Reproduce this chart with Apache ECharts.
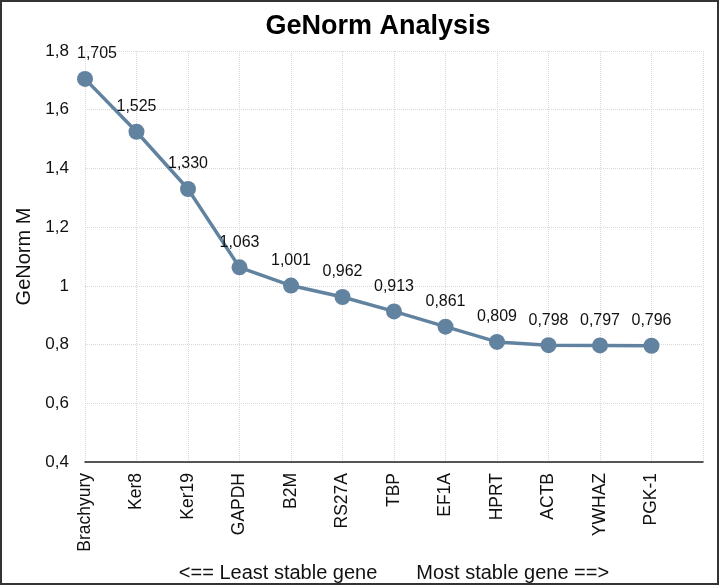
<!DOCTYPE html>
<html>
<head>
<meta charset="utf-8">
<style>html,body{margin:0;padding:0;background:#fff;}#c{width:720px;height:586px;}</style>
<script src="https://cdn.jsdelivr.net/npm/echarts@6/dist/echarts.min.js"></script>
</head>
<body>
<div id="c"></div>
<script>
const genes = ['Brachyury','Ker8','Ker19','GAPDH','B2M','RS27A','TBP','EF1A','HPRT','ACTB','YWHAZ','PGK-1'];
const mValues = [1.705,1.525,1.330,1.063,1.001,0.962,0.913,0.861,0.809,0.798,0.797,0.796];
const yTicks = {min:0.4, max:1.8, interval:0.2};
const titleText = 'GeNorm Analysis';
const yName = 'GeNorm M';
const xName = '<== Least stable gene       Most stable gene ==>';

const font = 'Liberation Sans, Arial, Helvetica, sans-serif';
const comma = (v, d) => v.toFixed(d).replace('.', ',');
const cats = genes.concat(['']);
const seriesData = mValues.map((v, i) => i === 0 ? {value: v, label: {offset: [12, 0]}} : v);

const chart = echarts.init(document.getElementById('c'), null, {renderer: 'canvas'});
chart.setOption({
  animation: false,
  backgroundColor: '#fff',
  title: {
    text: titleText, left: 373, top: 8, textAlign: 'center',
    textStyle: {fontFamily: font, fontSize: 27, fontWeight: 'bold', color: '#000'}
  },
  grid: {left: 85, right: 17, top: 51, bottom: 124, containLabel: false, outerBoundsMode: 'none'},
  xAxis: {
    type: 'category', data: cats, boundaryGap: false,
    axisLine: {show: true, lineStyle: {color: '#222', width: 1.5}},
    axisTick: {show: false},
    axisLabel: {rotate: 90, margin: 11, fontFamily: font, fontSize: 17.5, color: '#111', interval: 0},
    splitLine: {show: true, lineStyle: {color: '#d8d8d8', type: 'dotted', width: 1}},
    name: xName, nameLocation: 'middle', nameGap: 101,
    nameTextStyle: {fontFamily: font, fontSize: 20, color: '#111'}
  },
  yAxis: {
    type: 'value', min: yTicks.min, max: yTicks.max, interval: yTicks.interval,
    axisLine: {show: false}, axisTick: {show: false},
    axisLabel: {margin: 16, fontFamily: font, fontSize: 17, color: '#111',
      formatter: v => {const r = Math.round(v*10)/10; return Number.isInteger(r) ? String(r) : comma(r, 1);}},
    splitLine: {show: true, lineStyle: {color: '#d8d8d8', type: 'dotted', width: 1}},
    name: yName, nameLocation: 'middle', nameGap: 46, nameRotate: 90,
    nameTextStyle: {fontFamily: font, fontSize: 20, color: '#111'}
  },
  series: [{
    type: 'line', data: seriesData,
    symbol: 'circle', symbolSize: 16,
    lineStyle: {color: '#6283a0', width: 3.5},
    itemStyle: {color: '#6283a0'},
    label: {show: true, position: 'top', distance: 9, fontFamily: font, fontSize: 16, color: '#111',
      formatter: p => comma(p.value, 3)}
  }],
  graphic: [{
    type: 'rect', shape: {x: 1, y: 1, width: 717, height: 583},
    style: {fill: 'none', stroke: '#333', lineWidth: 2}, silent: true, z: 100
  }]
});
</script>
</body>
</html>
